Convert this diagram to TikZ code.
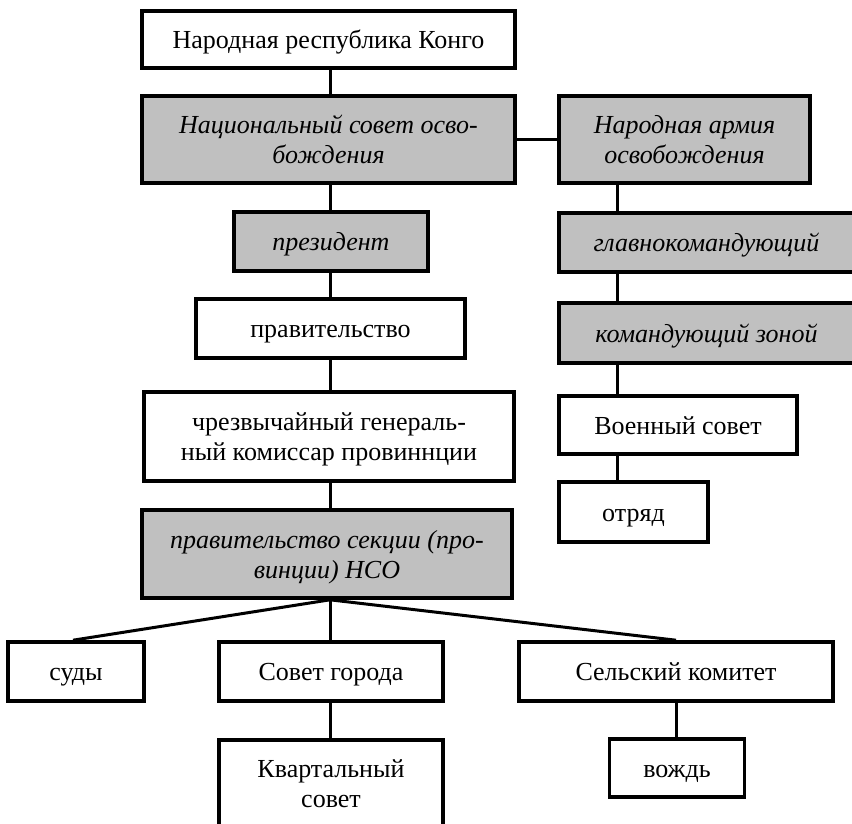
\documentclass[tikz,border=0pt]{standalone}
\usepackage{fontspec}
\setmainfont{Liberation Serif}
\definecolor{boxgray}{RGB}{192,192,192}
\newcommand\sst{\rule[-5.5pt]{0pt}{29.5pt}}
\tikzset{
  plain/.style={draw, line width=3.6pt, fill=white, inner sep=0pt, align=center,
    font={\fontsize{26}{30}\selectfont}},
  shaded/.style={plain, fill=boxgray, font={\fontsize{26}{30}\selectfont\itshape}},
  link/.style={line width=3pt}
}
\begin{document}
\begin{tikzpicture}[x=1pt,y=-1pt]
\useasboundingbox (0,0) rectangle (852,823);
\clip (0,0) rectangle (852,823);
\coordinate (lx) at (330,0);
\coordinate (rx) at (617,0);
% left column
\node[plain, minimum width=373pt, minimum height=57pt] (B1) at (328.5,39.5) {\sst Народная республика Конго};
\node[shaded, minimum width=373pt, minimum height=87pt] (B2) at (328.5,139.5) {\sst Национальный совет осво-\\\sst бождения};
\node[shaded, minimum width=194pt, minimum height=59pt] (B4) at (331,241.5) {\sst президент};
\node[plain, minimum width=269pt, minimum height=59pt] (B6) at (330.5,328.5) {\sst правительство};
\node[plain, minimum width=370pt, minimum height=89pt] (B8) at (329,436.5) {\sst чрезвычайный генераль-\\\sst ный комиссар провиннции};
\node[shaded, minimum width=370pt, minimum height=88pt] (B11) at (327,554) {\sst правительство секции (про-\\\sst винции) НСО};
% right column
\node[shaded, minimum width=251pt, minimum height=87pt] (B3) at (684.5,139.5) {\sst Народная армия\\\sst освобождения};
\node[shaded, minimum width=295pt, minimum height=59pt] (B5) at (706.5,242.5) {\sst главнокомандующий};
\node[shaded, minimum width=295pt, minimum height=60pt] (B7) at (706.5,333) {\sst командующий зоной};
\node[plain, minimum width=238pt, minimum height=58pt] (B9) at (678,425) {\sst Военный совет};
\node[plain, minimum width=149pt, minimum height=60pt] (B10) at (633.5,512) {\sst отряд};
% bottom row
\node[plain, minimum width=136pt, minimum height=59pt] (B12) at (76,671.5) {\sst суды};
\node[plain, minimum width=224pt, minimum height=59pt] (B13) at (331,671.5) {\sst Совет города};
\node[plain, minimum width=314pt, minimum height=59pt] (B14) at (676,671.5) {\sst Сельский комитет};
\node[plain, minimum width=224pt, minimum height=86pt] (B15) at (331,783) {\sst Квартальный\\\sst совет};
\node[plain, minimum width=135pt, minimum height=58pt] (B16) at (677,768) {\sst вождь};
% connectors
\draw[link] (B1.south -| lx) -- (B2.north -| lx);
\draw[link] (B2.east) -- (B3.west);
\draw[link] (B2.south -| lx) -- (B4.north -| lx);
\draw[link] (B4.south -| lx) -- (B6.north -| lx);
\draw[link] (B6.south -| lx) -- (B8.north -| lx);
\draw[link] (B8.south -| lx) -- (B11.north -| lx);
\draw[link] (B3.south -| rx) -- (B5.north -| rx);
\draw[link] (B5.south -| rx) -- (B7.north -| rx);
\draw[link] (B7.south -| rx) -- (B9.north -| rx);
\draw[link] (B9.south -| rx) -- (B10.north -| rx);
\draw[link] (B11.south -| lx) -- ([xshift=-3pt]B12.north);
\draw[link] (B11.south -| lx) -- (B13.north -| lx);
\draw[link] (B11.south -| lx) -- (B14.north);
\draw[link] (B13.south -| lx) -- (B15.north -| lx);
\draw[link] (B14.south) -- (B14.south |- B16.north);
\end{tikzpicture}
\end{document}
